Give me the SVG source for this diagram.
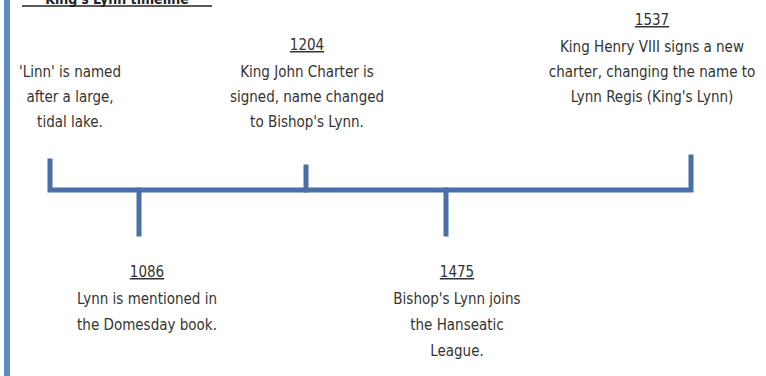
<svg xmlns="http://www.w3.org/2000/svg" width="766" height="376" viewBox="0 0 766 376">
<style>
text{font-family:"DejaVu Sans Condensed","DejaVu Sans",sans-serif;font-size:15px;fill:#333;text-anchor:middle}
.yr{text-decoration:underline}
.line{stroke:#4a6fa8;stroke-width:5;fill:none;stroke-linecap:square}
</style>
<rect width="766" height="376" fill="#fff"/>
<rect x="4" y="0" width="6" height="376" fill="#5b8cc4"/>
<g id="title">
<text x="117" y="4" style="font-weight:bold;font-size:14px;fill:#222">King's Lynn timeline</text>
<line x1="22" y1="6" x2="212" y2="6" stroke="#222" stroke-width="1.5"/>
</g>
<g id="connectors">
<path class="line" d="M50 161V190H691V157"/>
<path class="line" d="M306 167V190"/>
<path class="line" d="M139 190V234"/>
<path class="line" d="M446 190V234"/>
</g>
<g id="linn">
<text x="70" y="77">'Linn' is named</text>
<text x="70" y="102">after a large,</text>
<text x="70" y="127">tidal lake.</text>
</g>
<g id="e1204">
<text class="yr" x="307" y="50">1204</text>
<text x="307" y="77">King John Charter is</text>
<text x="307" y="102">signed, name changed</text>
<text x="307" y="127">to Bishop's Lynn.</text>
</g>
<g id="e1537">
<text class="yr" x="652" y="25">1537</text>
<text x="652" y="52">King Henry VIII signs a new</text>
<text x="652" y="77">charter, changing the name to</text>
<text x="652" y="102">Lynn Regis (King's Lynn)</text>
</g>
<g id="e1086">
<text class="yr" x="147" y="277">1086</text>
<text x="147" y="304">Lynn is mentioned in</text>
<text x="147" y="330">the Domesday book.</text>
</g>
<g id="e1475">
<text class="yr" x="457" y="277">1475</text>
<text x="457" y="304">Bishop's Lynn joins</text>
<text x="457" y="330">the Hanseatic</text>
<text x="457" y="356">League.</text>
</g>
</svg>
